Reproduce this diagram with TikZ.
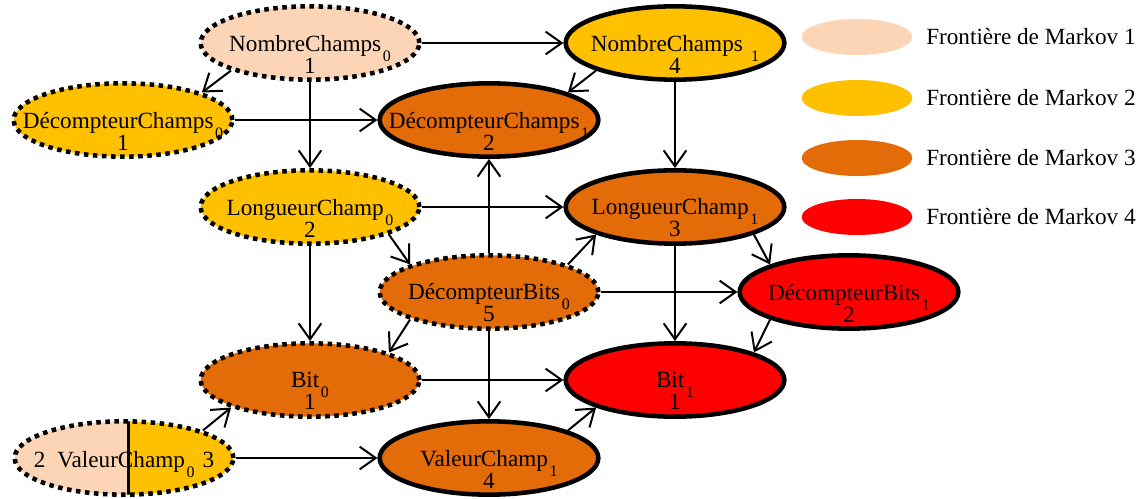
\documentclass[tikz,border=0pt]{standalone}
\usepackage{fontspec}
\setmainfont{Liberation Serif}
\usetikzlibrary{shapes.geometric, arrows.meta}

\definecolor{mbOne}{HTML}{FBD5B5}
\definecolor{mbTwo}{HTML}{FFC000}
\definecolor{mbThree}{HTML}{E36C09}
\definecolor{mbFour}{HTML}{FF0000}

% lowered, smaller time index placed after a variable name
\newcommand{\lowidx}[1]{\kern1.2pt\smash{\raisebox{-7.5pt}{\fontsize{12pt}{14pt}\selectfont #1}}}

\tikzset{
  bnode/.style={ellipse, minimum width=164pt, minimum height=55pt, inner sep=0pt},
  prevnode/.style={bnode, draw=black, line width=3.4pt, dash pattern=on 3.4pt off 3.4pt},
  curnode/.style={bnode, draw=black, line width=3.4pt},
  lbl/.style={font=\fontsize{17.4pt}{16.5pt}\selectfont, align=center, inner sep=0pt},
  link/.style={line width=1.5pt, -{Straight Barb[length=12pt,width=17pt]}},
  keyshape/.style={ellipse, minimum width=83pt, minimum height=27pt, inner sep=0pt},
  keytext/.style={font=\fontsize{17.4pt}{20pt}\selectfont, anchor=west, inner sep=0pt},
}

\begin{document}
\begin{tikzpicture}[x=0.75pt, y=-0.75pt]
\useasboundingbox (0,0) rectangle (1147,499);

% slice 0
\node[prevnode, fill=mbOne]   (nc0) at (310,43)  {};
\node[prevnode, fill=mbTwo]   (dc0) at (123,120) {};
\node[prevnode, fill=mbTwo]   (lc0) at (310,207) {};
\node[prevnode, fill=mbThree] (db0) at (489,292) {};
\node[prevnode, fill=mbThree] (b0)  at (310,380) {};
\node[prevnode, path picture={
    \fill[mbOne] (path picture bounding box.south west) rectangle ([xshift=3pt]path picture bounding box.north);
    \fill[mbTwo] ([xshift=3pt]path picture bounding box.south) rectangle (path picture bounding box.north east);
    \draw[solid, line width=2.25pt] ([xshift=3pt]path picture bounding box.south) -- ([xshift=3pt]path picture bounding box.north);
  }] (vc0) at (124,458) {};

% slice 1
\node[curnode, fill=mbTwo]   (nc1) at (675,43)  {};
\node[curnode, fill=mbThree] (dc1) at (489,120) {};
\node[curnode, fill=mbThree] (lc1) at (675,207) {};
\node[curnode, fill=mbFour]  (db1) at (849,292) {};
\node[curnode, fill=mbFour]  (b1)  at (675,380) {};
\node[curnode, fill=mbThree] (vc1) at (489,458) {};

% labels
\node[lbl] at ([yshift=-8.25pt]nc0.center) {NombreChamps\lowidx{0}\\1};
\node[lbl] at ([yshift=-8.25pt]dc0.center) {DécompteurChamps\lowidx{0}\\1};
\node[lbl] at ([yshift=-8.25pt]lc0.center) {LongueurChamp\lowidx{0}\\2};
\node[lbl] at ([yshift=-8.25pt]db0.center) {DécompteurBits\lowidx{0}\\5};
\node[lbl] at ([yshift=-8.25pt]b0.center)  {Bit\lowidx{0}\\1};
\node[lbl, anchor=base] at ([yshift=-6.75pt]vc0.center) {2\hspace{9pt}ValeurChamp\lowidx{0}\hspace{6pt}3};
\node[lbl] at ([yshift=-8.25pt]nc1.center) {NombreChamps\hspace{5pt}\lowidx{1}\\4};
\node[lbl] at ([yshift=-8.25pt]dc1.center) {DécompteurChamps\lowidx{1}\\2};
\node[lbl] at ([yshift=-8.25pt]lc1.center) {LongueurChamp\lowidx{1}\\3};
\node[lbl] at ([yshift=-8.25pt]db1.center) {DécompteurBits\lowidx{1}\\2};
\node[lbl] at ([yshift=-8.25pt]b1.center)  {Bit\lowidx{1}\\1};
\node[lbl] at ([yshift=-8.25pt]vc1.center) {ValeurChamp\lowidx{1}\\4};

% dependencies
\draw[link] (nc0) -- (nc1);
\draw[link] (nc0.south west) -- (dc0.north east);
\draw[link] (nc0) -- (lc0);
\draw[link] (dc0) -- (dc1);
\draw[link] (nc1.south west) -- (dc1.north east);
\draw[link] (nc1) -- (lc1);
\draw[link] (lc0) -- (lc1);
\draw[link] (lc0.south east) -- (db0.north west);
\draw[link] (lc0) -- (b0);
\draw[link] (db0) -- (dc1);
\draw[link] (db0.north east) -- (lc1.south west);
\draw[link] (db0) -- (db1);
\draw[link] (lc1.south east) -- (db1.north west);
\draw[link] (lc1) -- (b1);
\draw[link] (db0.south west) -- (b0.north east);
\draw[link] (db0) -- (vc1);
\draw[link] (db1.south west) -- (b1.north east);
\draw[link] (b0) -- (b1);
\draw[link] (vc0.north east) -- (b0.south west);
\draw[link] (vc0) -- (vc1);
\draw[link] (vc1.north east) -- (b1.south west);

% legend
\node[keyshape, fill=mbOne]   (k1) at (857,37)  {};
\node[keyshape, fill=mbTwo]   (k2) at (857,98)  {};
\node[keyshape, fill=mbThree] (k3) at (857,158) {};
\node[keyshape, fill=mbFour]  (k4) at (857,217) {};
\node[keytext] (t1) at (926,37)  {Frontière de Markov 1};
\node[keytext] (t2) at (926,98)  {Frontière de Markov 2};
\node[keytext] (t3) at (926,158) {Frontière de Markov 3};
\node[keytext] (t4) at (926,217) {Frontière de Markov 4};
\end{tikzpicture}
\end{document}
